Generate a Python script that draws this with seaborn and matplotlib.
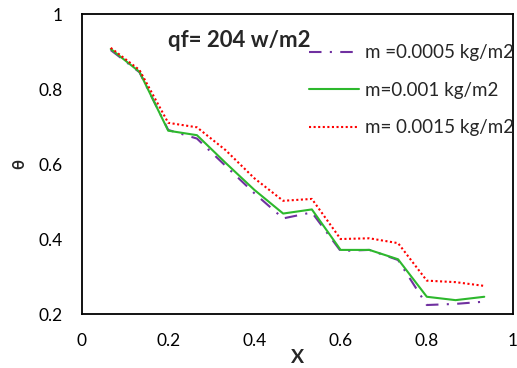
import matplotlib
matplotlib.use("Agg")
import matplotlib.pyplot as plt
import seaborn as sns
import pandas as pd

x_vals = [0.0667, 0.1333, 0.2, 0.2667, 0.3333, 0.4, 0.4667, 0.5333, 0.6, 0.6667, 0.7333, 0.8, 0.8667, 0.9333]
theta_m0005 = [0.904, 0.845, 0.691, 0.668, 0.595, 0.522, 0.455, 0.471, 0.368, 0.371, 0.344, 0.224, 0.227, 0.233]
theta_m001 = [0.907, 0.846, 0.689, 0.677, 0.603, 0.531, 0.468, 0.479, 0.371, 0.371, 0.346, 0.246, 0.237, 0.246]
theta_m0015 = [0.910, 0.851, 0.710, 0.698, 0.637, 0.562, 0.502, 0.507, 0.400, 0.402, 0.389, 0.289, 0.285, 0.275]
series_names = ["m =0.0005 kg/m2", "m=0.001 kg/m2", "m= 0.0015 kg/m2"]
title_text = "qf= 204 w/m2"

sns.set_style("white")
plt.rcParams['font.family'] = ['Lato', 'DejaVu Sans']

rows = []
for name, vals in zip(series_names, [theta_m0005, theta_m001, theta_m0015]):
    for xv, yv in zip(x_vals, vals):
        rows.append({"X": xv, "theta": yv, "series": name})
df = pd.DataFrame(rows)

fig = plt.figure(figsize=(5.17, 3.68), dpi=100)
ax = fig.add_axes([0.1586, 0.1467, 0.8337, 0.815])

palette = {series_names[0]: "#7030A0", series_names[1]: "#2DB82D", series_names[2]: "#FF0000"}
dashes = {series_names[0]: (6, 4, 1, 4), series_names[1]: "", series_names[2]: (1, 1.2)}
sns.lineplot(data=df, x="X", y="theta", hue="series", style="series", palette=palette,
             dashes=dashes, linewidth=1.5, ax=ax, legend=True)

ax.set_xlim(0, 1)
ax.set_ylim(0.2, 1)
ax.set_xticks([0, 0.2, 0.4, 0.6, 0.8, 1])
ax.set_xticklabels(["0", "0.2", "0.4", "0.6", "0.8", "1"])
ax.set_yticks([0.2, 0.4, 0.6, 0.8, 1])
ax.set_yticklabels(["0.2", "0.4", "0.6", "0.8", "1"])
ax.tick_params(axis='both', direction='in', length=5, width=1.2, labelsize=12.5, colors='black')
ax.tick_params(axis='x', pad=14)
ax.tick_params(axis='y', pad=14)
for s in ax.spines.values():
    s.set_color('black')
    s.set_linewidth(1.3)

ax.set_xlabel("X", fontsize=14, fontweight='bold', labelpad=0)
ax.set_ylabel("θ", fontsize=12, fontweight='bold', labelpad=8)

ax.text(0.2, 0.912, title_text, transform=ax.transAxes, fontsize=16, fontweight='bold',
        ha='left', va='center')

leg = ax.legend(loc='upper right', bbox_to_anchor=(1.02, 0.925), frameon=False, fontsize=13.5,
                handlelength=2.7, handletextpad=0.3, labelspacing=1.1, borderaxespad=0)

fig.savefig("out.png", dpi=100)
